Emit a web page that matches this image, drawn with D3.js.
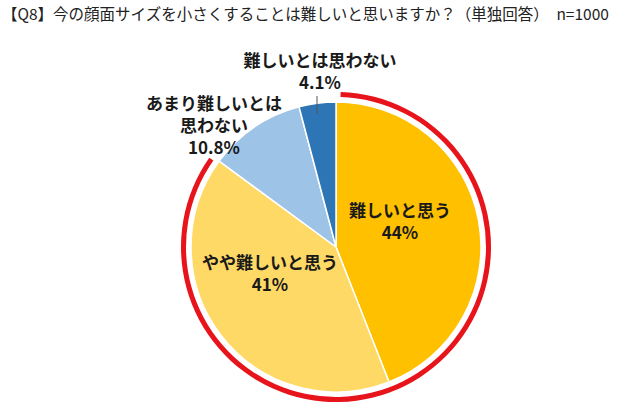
<!DOCTYPE html>
<html><head><meta charset="utf-8">
<script src="https://cdn.jsdelivr.net/npm/d3@7"></script>
<style>body{margin:0;background:#fff;font-family:"Noto Sans CJK JP",sans-serif;}</style>
</head><body><svg width="640" height="407"></svg>
<script>
const labels = ['難しいと思う', 'やや難しいと思う', 'あまり難しいとは|思わない', '難しいとは思わない'];
const values = [44, 41, 10.8, 4.1];
const valueText = ['44%', '41%', '10.8%', '4.1%'];
const colors = ['#ffc000', '#ffd966', '#9dc3e6', '#2e75b6'];

const svg = d3.select('svg');
const cx = 336, cy = 247, r = 145;

svg.append('text').attr('x', 2).attr('y', 20).attr('font-size', 15.5).attr('fill', '#222')
    .text('【Q8】今の顔面サイズを小さくすることは難しいと思いますか？（単独回答）　n=1000');

const pie = d3.pie().sort(null).value(d => d)(values);
const arc = d3.arc().innerRadius(0).outerRadius(r);
const g = svg.append('g').attr('transform', `translate(${cx},${cy})`);

g.selectAll('path').data(pie).enter().append('path')
    .attr('d', arc).attr('fill', (d, i) => colors[i])
    .attr('stroke', '#fff').attr('stroke-width', 1.5);

// red highlight arc over the "difficult" group
const redEnd = pie[1].endAngle;
g.append('path')
    .attr('d', d3.arc().innerRadius(r + 5).outerRadius(r + 10)({startAngle: 0.03, endAngle: redEnd - 0.02}))
    .attr('fill', '#e8141c');

// leader line for the small slice
g.append('line').attr('x1', -19).attr('y1', -r + 12).attr('x2', -19).attr('y2', -r - 6)
    .attr('stroke', '#555').attr('stroke-width', 1);

const labelPos = [[64, -30], [-66, 22], [-122, -137], [-16, -180]];
labelPos.forEach((p, i) => {
    const lines = labels[i].split('|').concat([valueText[i]]);
    const t = g.append('text').attr('text-anchor', 'middle').attr('font-size', 17)
        .attr('font-weight', 'bold').attr('fill', '#1a1a1a');
    lines.forEach((s, j) => {
        t.append('tspan').attr('x', p[0]).attr('y', p[1] + j * 22).text(s);
    });
});
</script></body></html>
